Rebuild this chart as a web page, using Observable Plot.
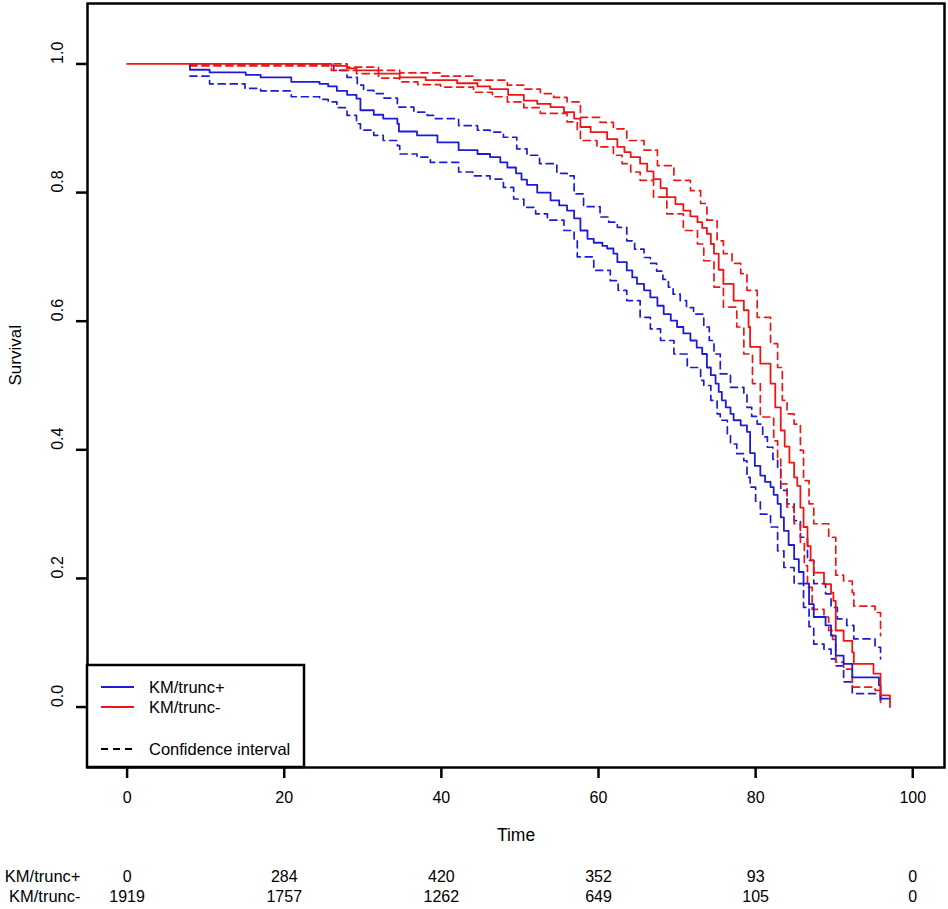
<!DOCTYPE html>
<html>
<head>
<meta charset="utf-8">
<script src="https://cdn.jsdelivr.net/npm/d3@7"></script>
<script src="https://cdn.jsdelivr.net/npm/@observablehq/plot@0.6"></script>
<style>
  html, body { margin: 0; padding: 0; background: #fff; }
  #chart { position: relative; width: 948px; height: 909px; }
</style>
</head>
<body>
<div id="chart"></div>
<script>
// ---- Data ----
const groups = ["KM/trunc+", "KM/trunc-"];
const groupColors = ["#1c1cd8", "#ee1515"];

// KM/trunc+ estimate
const posTime = [8, 8, 10.5, 15.1, 17, 20.9, 24.5, 25.6, 26.7, 28, 29.2, 29.7, 31.4, 32.6, 34.4, 34.6, 36.9, 39.5, 42.2, 44.6, 46.2, 47.5, 48.4, 49.5, 50.2, 50.9, 52.2, 53.9, 55, 56, 56.9, 57.7, 58.6, 59.4, 60.5, 61.1, 61.9, 62.4, 63.6, 64.3, 64.9, 65.8, 66.6, 67.5, 68.3, 69.2, 70, 70.8, 71.7, 72.5, 73.2, 73.8, 74.3, 74.9, 75.3, 75.7, 76.2, 76.8, 77.2, 78.1, 78.9, 79.3, 79.9, 80.6, 81.2, 81.9, 82.3, 82.8, 83.2, 83.6, 84.2, 84.9, 85.5, 86.1, 86.8, 87.4, 88.9, 89.6, 90.2, 91.2, 92.3, 95.7, 95.9, 97.1];
const posSurv = [1.0, 0.991, 0.987, 0.983, 0.979, 0.972, 0.969, 0.965, 0.958, 0.952, 0.946, 0.928, 0.921, 0.915, 0.907, 0.895, 0.889, 0.878, 0.866, 0.860, 0.855, 0.847, 0.839, 0.830, 0.820, 0.812, 0.800, 0.788, 0.780, 0.772, 0.760, 0.741, 0.728, 0.722, 0.717, 0.713, 0.705, 0.692, 0.679, 0.668, 0.658, 0.648, 0.637, 0.624, 0.611, 0.601, 0.591, 0.581, 0.570, 0.559, 0.549, 0.528, 0.516, 0.503, 0.490, 0.477, 0.466, 0.456, 0.446, 0.438, 0.428, 0.395, 0.375, 0.360, 0.350, 0.342, 0.330, 0.316, 0.295, 0.274, 0.252, 0.230, 0.210, 0.192, 0.160, 0.140, 0.127, 0.111, 0.080, 0.067, 0.046, 0.034, 0.013, 0.013];
// KM/trunc+ upper confidence limit
const posUpTime = [8, 25.6, 26.3, 28, 29.3, 30.1, 31.4, 32.7, 34.4, 36.5, 38.2, 39, 42.2, 44.6, 46.2, 47.9, 49.6, 50.9, 52.5, 54.7, 56, 56.9, 58.1, 60.2, 61.3, 62.4, 63.6, 64.6, 65.8, 66.6, 67.4, 68.2, 68.9, 69.5, 70.4, 71.2, 72.1, 73.4, 74.1, 74.7, 75.5, 76.8, 78.5, 78.9, 79.5, 80.2, 80.9, 81.5, 82.2, 82.8, 83.2, 84, 84.9, 85.7, 86.6, 87.4, 88.9, 89.6, 90.4, 91.6, 92.5, 95.2, 95.9, 95.9];
const posUp = [1.0, 0.998, 0.990, 0.979, 0.967, 0.959, 0.954, 0.947, 0.933, 0.925, 0.920, 0.915, 0.904, 0.897, 0.894, 0.886, 0.868, 0.858, 0.845, 0.830, 0.826, 0.798, 0.778, 0.762, 0.754, 0.746, 0.725, 0.712, 0.699, 0.690, 0.678, 0.665, 0.653, 0.642, 0.632, 0.621, 0.611, 0.591, 0.570, 0.549, 0.518, 0.497, 0.487, 0.466, 0.452, 0.440, 0.420, 0.404, 0.385, 0.370, 0.337, 0.316, 0.290, 0.264, 0.228, 0.192, 0.176, 0.155, 0.137, 0.127, 0.106, 0.093, 0.093, 0.075];
// KM/trunc+ lower confidence limit
const posLoTime = [8, 10.5, 15, 17, 20.9, 24.5, 25.6, 26.7, 28, 29.2, 29.7, 31.4, 32.6, 34.4, 34.7, 36.9, 38.6, 42.2, 44, 46.2, 47.9, 49.2, 50.5, 52, 53.5, 55.6, 56.9, 57.3, 59.4, 61.5, 62.5, 63.6, 65.3, 66.6, 67.9, 69.6, 71.3, 73, 73.4, 74.3, 75.1, 75.5, 76.4, 76.8, 77.6, 78.5, 78.9, 79.3, 80, 80.6, 81.9, 82.8, 83.6, 84.9, 86.1, 86.8, 87.4, 88.7, 89.6, 90.2, 91.2, 92.3, 95.9, 95.9];
const posLo = [0.981, 0.969, 0.962, 0.958, 0.949, 0.945, 0.941, 0.932, 0.920, 0.907, 0.897, 0.889, 0.881, 0.873, 0.860, 0.855, 0.847, 0.832, 0.826, 0.821, 0.808, 0.790, 0.777, 0.767, 0.757, 0.741, 0.725, 0.700, 0.679, 0.663, 0.648, 0.632, 0.606, 0.588, 0.570, 0.549, 0.528, 0.508, 0.500, 0.477, 0.456, 0.446, 0.425, 0.409, 0.394, 0.383, 0.357, 0.342, 0.320, 0.300, 0.280, 0.243, 0.217, 0.192, 0.155, 0.125, 0.098, 0.090, 0.075, 0.064, 0.039, 0.021, 0.016, 0.005];

// KM/trunc- estimate
const negTime = [0, 26, 28, 29.2, 32, 34.7, 38, 42, 44.6, 46.2, 48.5, 50.5, 52.2, 53.9, 55.6, 56.9, 57.7, 59, 61.1, 62.4, 63.3, 64.1, 65.3, 66.2, 67, 67.9, 68.7, 69.8, 70.8, 71.7, 72.6, 73.2, 73.8, 74.3, 74.7, 75.3, 75.9, 77.2, 78.5, 79.1, 79.3, 80.6, 81.9, 82.5, 83.2, 83.7, 84.3, 84.9, 85.3, 85.7, 86.1, 86.6, 87, 87.4, 88.7, 89.6, 89.9, 90.2, 91.2, 92.3, 92.5, 95, 95.9, 97.1, 97.1];
const negSurv = [1.0, 0.997, 0.993, 0.990, 0.985, 0.979, 0.975, 0.970, 0.965, 0.961, 0.952, 0.943, 0.938, 0.933, 0.925, 0.915, 0.902, 0.894, 0.883, 0.871, 0.863, 0.855, 0.845, 0.833, 0.821, 0.807, 0.793, 0.782, 0.772, 0.763, 0.754, 0.745, 0.736, 0.720, 0.705, 0.680, 0.658, 0.632, 0.617, 0.591, 0.560, 0.534, 0.503, 0.466, 0.430, 0.405, 0.380, 0.357, 0.344, 0.310, 0.280, 0.250, 0.228, 0.209, 0.191, 0.178, 0.165, 0.119, 0.103, 0.085, 0.067, 0.052, 0.018, 0.018, 0.0];
// KM/trunc- upper confidence limit
const negUpTime = [8, 28, 32, 34.7, 39.9, 44.1, 48.4, 50.5, 52.6, 54.3, 56, 57.7, 60.2, 61.9, 63.6, 65.8, 67.5, 69.6, 71.7, 73, 73.8, 75.1, 75.9, 77, 78.1, 78.9, 80.2, 81.9, 82.8, 83.4, 84, 84.9, 85.7, 86.1, 86.8, 87.4, 89.3, 90.2, 91.2, 92.3, 92.5, 95.2, 95.9, 95.9];
const negUp = [1.0, 0.995, 0.990, 0.986, 0.981, 0.975, 0.967, 0.961, 0.954, 0.948, 0.941, 0.917, 0.909, 0.899, 0.881, 0.866, 0.842, 0.819, 0.803, 0.783, 0.757, 0.725, 0.705, 0.690, 0.674, 0.648, 0.606, 0.565, 0.528, 0.477, 0.456, 0.440, 0.399, 0.352, 0.316, 0.285, 0.264, 0.205, 0.196, 0.178, 0.157, 0.147, 0.137, 0.111];
// KM/trunc- lower confidence limit
const negLoTime = [8, 26, 29.2, 32, 34.7, 37, 39.9, 44.1, 46.5, 48.4, 50.5, 52.6, 56, 57.3, 57.7, 59.8, 61.9, 63, 64.1, 65.3, 67, 68.7, 70.8, 72.6, 73.4, 74.7, 75.9, 77.6, 78.5, 79.6, 80.6, 82.3, 82.8, 83.2, 84, 84.9, 85.7, 86.2, 86.6, 87.2, 88.7, 89.3, 89.8, 90.2, 91.2, 92.3, 95.2, 95.9, 95.9];
const negLo = [0.997, 0.990, 0.985, 0.978, 0.972, 0.968, 0.964, 0.956, 0.949, 0.941, 0.932, 0.923, 0.910, 0.897, 0.881, 0.871, 0.858, 0.845, 0.832, 0.819, 0.793, 0.767, 0.741, 0.720, 0.694, 0.653, 0.622, 0.591, 0.549, 0.503, 0.451, 0.414, 0.388, 0.347, 0.311, 0.285, 0.254, 0.220, 0.186, 0.152, 0.140, 0.119, 0.105, 0.070, 0.059, 0.031, 0.026, 0.013, 0.003];

// Axis ticks
const xTicks = [0, 20, 40, 60, 80, 100];
const yTicks = [0, 0.2, 0.4, 0.6, 0.8, 1.0];

// Numbers at risk
const riskTimes = [0, 20, 40, 60, 80, 100];
const riskPos = [0, 284, 420, 352, 93, 0];
const riskNeg = [1919, 1757, 1262, 649, 105, 0];

// ---- Build tables ----
function zip(times, vals, group, part) {
  return times.map((t, i) => ({t, s: vals[i], group, series: group + " " + part}));
}
const estRows = [
  ...zip(posTime, posSurv, groups[0], "est"),
  ...zip(negTime, negSurv, groups[1], "est")
];
const ciRows = [
  ...zip(posUpTime, posUp, groups[0], "up"),
  ...zip(posLoTime, posLo, groups[0], "lo"),
  ...zip(negUpTime, negUp, groups[1], "up"),
  ...zip(negLoTime, negLo, groups[1], "lo")
];
const riskRowPos = riskTimes.map((t, i) => ({t, n: riskPos[i]}));
const riskRowNeg = riskTimes.map((t, i) => ({t, n: riskNeg[i]}));

const FONT = "'Liberation Sans', Arial, Helvetica, sans-serif";

const plot = Plot.plot({
  width: 948,
  height: 909,
  marginLeft: 87,
  marginRight: 4,
  marginTop: 3,
  marginBottom: 142,
  style: {fontFamily: FONT, fontSize: "16px", background: "white", color: "black", overflow: "visible"},
  x: {domain: [-5.04, 104.04]},
  y: {domain: [-0.094, 1.094]},
  color: {domain: groups, range: groupColors},
  marks: [
    Plot.line(ciRows, {x: "t", y: "s", z: "series", stroke: "group", curve: "step-after", strokeWidth: 1.7, strokeDasharray: "7,5"}),
    Plot.line(estRows, {x: "t", y: "s", z: "series", stroke: "group", curve: "step-after", strokeWidth: 1.8}),
    Plot.frame({strokeWidth: 2.5}),
    Plot.axisX({ticks: xTicks, tickSize: 11, tickPadding: 13, strokeWidth: 2.5, fontSize: 16, label: null}),
    Plot.axisY({ticks: yTicks, tickSize: 11, tickFormat: () => "", strokeWidth: 2.5, label: null}),
    Plot.text(yTicks, {y: d => d, text: d => d.toFixed(1), frameAnchor: "left", dx: -30, rotate: -90, fontSize: 16}),
    Plot.text(["Time"], {frameAnchor: "bottom", dy: 73, fontSize: 17.5}),
    Plot.text(["Survival"], {frameAnchor: "left", dx: -72, rotate: -90, fontSize: 17}),
    Plot.text(riskRowPos, {x: "t", text: d => String(d.n), frameAnchor: "bottom", dy: 114, fontSize: 16}),
    Plot.text(riskRowNeg, {x: "t", text: d => String(d.n), frameAnchor: "bottom", dy: 134, fontSize: 16}),
    Plot.text([groups[0]], {frameAnchor: "bottom-left", dx: -7, dy: 114, textAnchor: "end", fontSize: 16.5}),
    Plot.text([groups[1]], {frameAnchor: "bottom-left", dx: -7, dy: 134, textAnchor: "end", fontSize: 16.5})
  ]
});

document.getElementById("chart").appendChild(plot);

// ---- Legend (inside the plot, bottom-left) ----
const svg = d3.select(plot);
const lg = svg.append("g")
  .attr("font-family", FONT)
  .attr("font-size", 16.5)
  .attr("text-anchor", "start");
lg.append("rect").attr("x", 87).attr("y", 665).attr("width", 217).attr("height", 102)
  .attr("fill", "white").attr("stroke", "black").attr("stroke-width", 2.5);
const legendItems = [
  {label: groups[0], color: groupColors[0], dash: null, y: 687},
  {label: groups[1], color: groupColors[1], dash: null, y: 707},
  {label: "Confidence interval", color: "black", dash: "7,5", y: 749}
];
for (const it of legendItems) {
  lg.append("line").attr("x1", 101).attr("x2", 134).attr("y1", it.y).attr("y2", it.y)
    .attr("stroke", it.color).attr("stroke-width", 1.8)
    .attr("stroke-dasharray", it.dash);
  lg.append("text").attr("x", 149).attr("y", it.y).attr("dy", "0.35em")
    .attr("text-anchor", "start").attr("fill", "black").text(it.label);
}
</script>
</body>
</html>
